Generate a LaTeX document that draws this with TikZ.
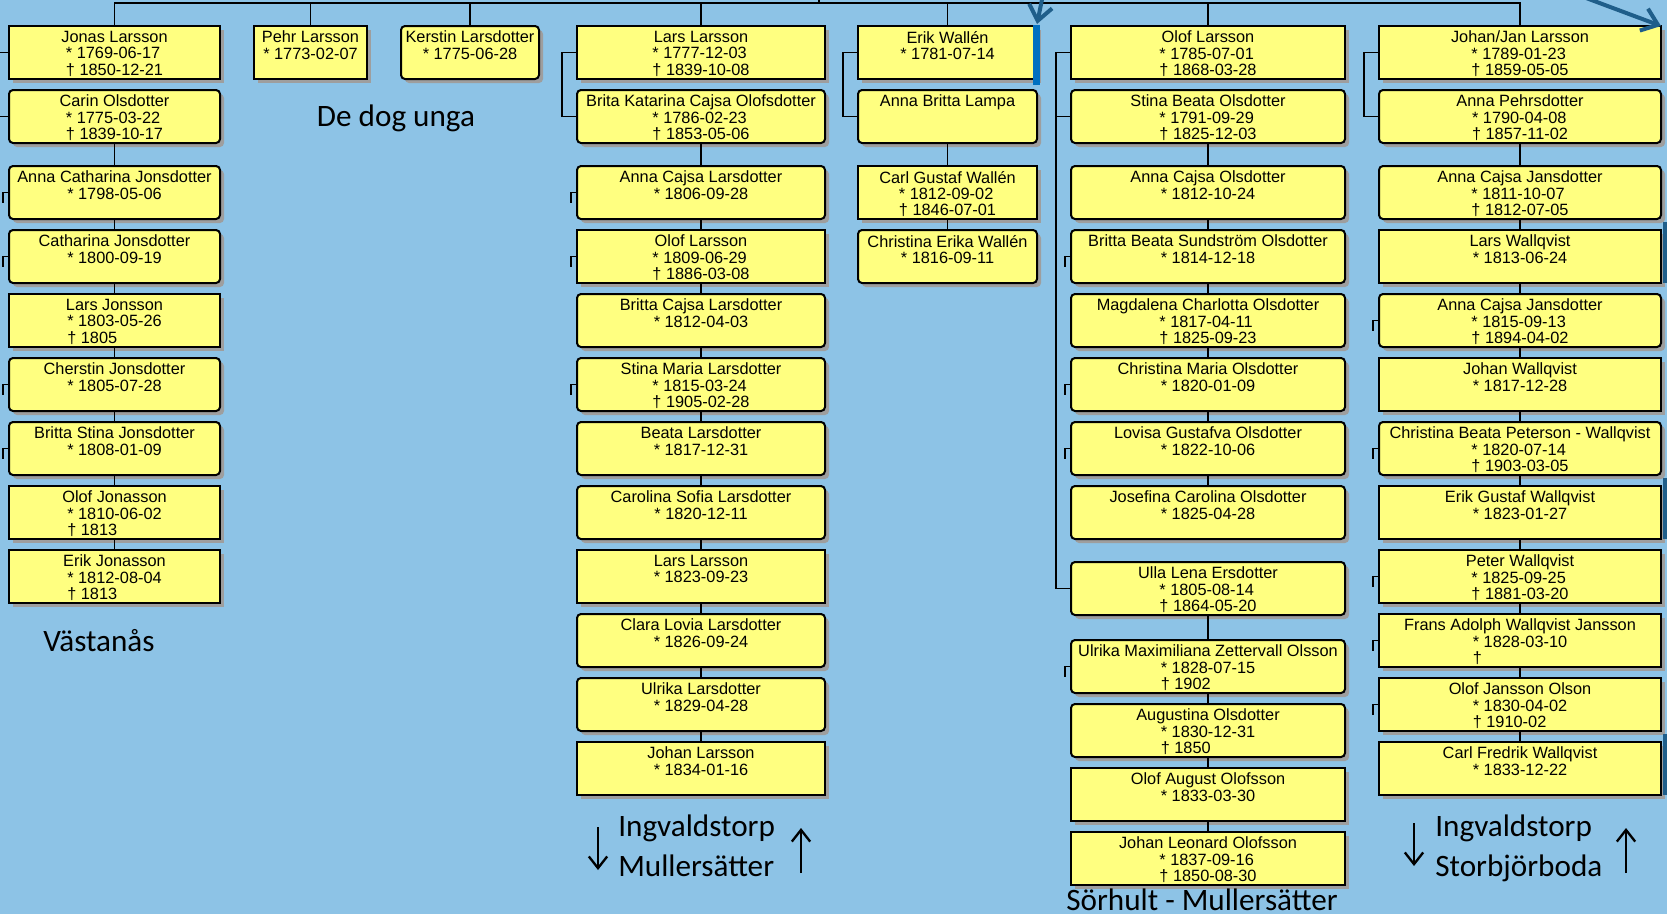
\documentclass[tikz,border=0pt]{standalone}
\usepackage{fontspec}
\setmainfont{Liberation Sans}
\newfontfamily\placefont{Carlito}
\usetikzlibrary{positioning,arrows.meta,shadows}
\definecolor{bgblue}{RGB}{141,195,230}
\definecolor{cardfill}{RGB}{255,255,128}
\definecolor{shadowgrey}{RGB}{158,158,158}
\definecolor{markblue}{RGB}{0,112,192}
\definecolor{arrowblue}{RGB}{31,94,138}
\newcommand{\cardfont}{\fontsize{9.8}{9.6}\selectfont}
\newcommand{\card}[2]{\vbox to 25.8pt{\hbox{\begin{tabular}[t]{@{}c@{}}#1\\\begin{tabular}[t]{@{}l@{}}#2\end{tabular}\end{tabular}}\vss}}

\begin{document}
\begin{tikzpicture}[
   x=0.6pt, y=-0.6pt,
   node distance = 6.6pt,
   person/.style = {draw, line width=1.2pt, fill=cardfill, inner xsep=0pt, inner ysep=3pt,
                    outer sep=0pt, minimum height=31.8pt, font=\cardfont,
                    drop shadow={shadow xshift=2.4pt, shadow yshift=-2.4pt, fill=shadowgrey, opacity=1}},
   man/.style = {person},
   woman/.style = {person, rounded corners=2.4pt},
   jcol/.style = {minimum width=126.6pt},
   pcol/.style = {minimum width=67.8pt},
   kcol/.style = {minimum width=82.8pt},
   lcol/.style = {minimum width=148.8pt},
   ecol/.style = {minimum width=107.4pt},
   ocol/.style = {minimum width=164.4pt},
   ncol/.style = {minimum width=169.2pt},
   link/.style = {line width=1.1pt},
   pointer/.style = {draw=arrowblue, line width=2.4pt, -{Straight Barb[length=9pt, width=14pt]}},
   glyph/.style = {line width=1.4pt, -{Straight Barb[length=7pt, width=11pt]}},
   place/.style = {font=\placefont\fontsize{18.7}{24}\selectfont, inner sep=0pt}
]
\useasboundingbox (0,0) rectangle (1667,914);
\clip (0,0) rectangle (1667,914);
\fill[bgblue] (0,0) rectangle (1667,914);

\node[man, jcol, anchor=north west] (jonas) at (9,26) {\card{Jonas Larsson}{* 1769-06-17\\† 1850-12-21}};
\node[woman, jcol, below=of jonas] (carin) {\card{Carin Olsdotter}{* 1775-03-22\\† 1839-10-17}};
\node[woman, jcol, below=13.8pt of carin] (jo1) {\card{Anna Catharina Jonsdotter}{* 1798-05-06}};
\node[woman, jcol, below=of jo1] (jo2) {\card{Catharina Jonsdotter}{* 1800-09-19}};
\node[man, jcol, below=of jo2] (jo3) {\card{Lars Jonsson}{* 1803-05-26\\† 1805}};
\node[woman, jcol, below=of jo3] (jo4) {\card{Cherstin Jonsdotter}{* 1805-07-28}};
\node[woman, jcol, below=of jo4] (jo5) {\card{Britta Stina Jonsdotter}{* 1808-01-09}};
\node[man, jcol, below=of jo5] (jo6) {\card{Olof Jonasson}{* 1810-06-02\\† 1813}};
\node[man, jcol, below=of jo6] (jo7) {\card{Erik Jonasson}{* 1812-08-04\\† 1813}};

\node[man, pcol, anchor=north west] (pehr) at (254,26) {\card{Pehr Larsson}{* 1773-02-07}};
\node[woman, kcol, anchor=north west] (kerstin) at (401,26) {\card{Kerstin Larsdotter}{* 1775-06-28}};

\node[man, lcol, anchor=north west] (lars) at (577,26) {\card{Lars Larsson}{* 1777-12-03\\† 1839-10-08}};
\node[woman, lcol, below=of lars] (brita) {\card{Brita Katarina Cajsa Olofsdotter}{* 1786-02-23\\† 1853-05-06}};
\node[woman, lcol, below=13.8pt of brita] (la1) {\card{Anna Cajsa Larsdotter}{* 1806-09-28}};
\node[man, lcol, below=of la1] (la2) {\card{Olof Larsson}{* 1809-06-29\\† 1886-03-08}};
\node[woman, lcol, below=of la2] (la3) {\card{Britta Cajsa Larsdotter}{* 1812-04-03}};
\node[woman, lcol, below=of la3] (la4) {\card{Stina Maria Larsdotter}{* 1815-03-24\\† 1905-02-28}};
\node[woman, lcol, below=of la4] (la5) {\card{Beata Larsdotter}{* 1817-12-31}};
\node[woman, lcol, below=of la5] (la6) {\card{Carolina Sofia Larsdotter}{* 1820-12-11}};
\node[man, lcol, below=of la6] (la7) {\card{Lars Larsson}{* 1823-09-23}};
\node[woman, lcol, below=of la7] (la8) {\card{Clara Lovia Larsdotter}{* 1826-09-24}};
\node[woman, lcol, below=of la8] (la9) {\card{Ulrika Larsdotter}{* 1829-04-28}};
\node[man, lcol, below=of la9] (la10) {\card{Johan Larsson}{* 1834-01-16}};

\node[man, ecol, anchor=north west] (erik) at (858,26) {\card{Erik Wallén}{* 1781-07-14}};
\node[woman, ecol, below=of erik] (lampa) {\card{Anna Britta Lampa}{}};
\node[man, ecol, below=13.8pt of lampa] (er1) {\card{Carl Gustaf Wallén}{* 1812-09-02\\† 1846-07-01}};
\node[woman, ecol, below=of er1] (er2) {\card{Christina Erika Wallén}{* 1816-09-11}};

\node[man, ocol, anchor=north west] (olof) at (1071,26) {\card{Olof Larsson}{* 1785-07-01\\† 1868-03-28}};
\node[woman, ocol, below=of olof] (stina) {\card{Stina Beata Olsdotter}{* 1791-09-29\\† 1825-12-03}};
\node[woman, ocol, below=13.8pt of stina] (ol1) {\card{Anna Cajsa Olsdotter}{* 1812-10-24}};
\node[woman, ocol, below=of ol1] (ol2) {\card{Britta Beata Sundström Olsdotter}{* 1814-12-18}};
\node[woman, ocol, below=of ol2] (ol3) {\card{Magdalena Charlotta Olsdotter}{* 1817-04-11\\† 1825-09-23}};
\node[woman, ocol, below=of ol3] (ol4) {\card{Christina Maria Olsdotter}{* 1820-01-09}};
\node[woman, ocol, below=of ol4] (ol5) {\card{Lovisa Gustafva Olsdotter}{* 1822-10-06}};
\node[woman, ocol, below=of ol5] (ol6) {\card{Josefina Carolina Olsdotter}{* 1825-04-28}};
\node[woman, ocol, below=13.8pt of ol6] (ulla) {\card{Ulla Lena Ersdotter}{* 1805-08-14\\† 1864-05-20}};
\node[woman, ocol, below=15pt of ulla] (ul1) {\card{Ulrika Maximiliana Zettervall Olsson}{* 1828-07-15\\† 1902}};
\node[woman, ocol, below=of ul1] (ul2) {\card{Augustina Olsdotter}{* 1830-12-31\\† 1850}};
\node[man, ocol, below=of ul2] (ul3) {\card{Olof August Olofsson}{* 1833-03-30}};
\node[man, ocol, below=of ul3] (ul4) {\card{Johan Leonard Olofsson}{* 1837-09-16\\† 1850-08-30}};

\node[man, ncol, anchor=north west] (johan) at (1379,26) {\card{Johan/Jan Larsson}{* 1789-01-23\\† 1859-05-05}};
\node[woman, ncol, below=of johan] (annap) {\card{Anna Pehrsdotter}{* 1790-04-08\\† 1857-11-02}};
\node[woman, ncol, below=13.8pt of annap] (jn1) {\card{Anna Cajsa Jansdotter}{* 1811-10-07\\† 1812-07-05}};
\node[man, ncol, below=of jn1] (jn2) {\card{Lars Wallqvist}{* 1813-06-24}};
\node[woman, ncol, below=of jn2] (jn3) {\card{Anna Cajsa Jansdotter}{* 1815-09-13\\† 1894-04-02}};
\node[man, ncol, below=of jn3] (jn4) {\card{Johan Wallqvist}{* 1817-12-28}};
\node[woman, ncol, below=of jn4] (jn5) {\card{Christina Beata Peterson - Wallqvist}{* 1820-07-14\\† 1903-03-05}};
\node[man, ncol, below=of jn5] (jn6) {\card{Erik Gustaf Wallqvist}{* 1823-01-27}};
\node[man, ncol, below=of jn6] (jn7) {\card{Peter Wallqvist}{* 1825-09-25\\† 1881-03-20}};
\node[man, ncol, below=of jn7] (jn8) {\card{Frans Adolph Wallqvist Jansson}{* 1828-03-10\\†}};
\node[man, ncol, below=of jn8] (jn9) {\card{Olof Jansson Olson}{* 1830-04-02\\† 1910-02}};
\node[man, ncol, below=of jn9] (jn10) {\card{Carl Fredrik Wallqvist}{* 1833-12-22}};

\node[place, anchor=base] (dog) at (396,126) {De dog unga};
\node[place, anchor=base] (vast) at (99,651) {Västanås};
\node[place, anchor=base west] (ingmul) at (618,836) {\begin{tabular}[t]{@{}l@{}}Ingvaldstorp\\Mullersätter\end{tabular}};
\node[place, anchor=base west] (ingsto) at (1435,836) {\begin{tabular}[t]{@{}l@{}}Ingvaldstorp\\Storbjörboda\end{tabular}};
\node[place, anchor=base] (sorh) at (1202,910) {Sörhult - Mullersätter};

\coordinate (bus) at (0,3);
\coordinate (up) at (819,-6);
\draw[link] (jonas.north) -- (jonas.north |- bus) -- (johan.north |- bus) -- (johan.north);
\draw[link] (pehr.north) -- (pehr.north |- bus);
\draw[link] (kerstin.north) -- (kerstin.north |- bus);
\draw[link] (lars.north) -- (lars.north |- bus);
\draw[link] (erik.north) -- (erik.north |- bus);
\draw[link] (olof.north) -- (olof.north |- bus);
\draw[link] (up) -- (up |- bus);

\draw[link] (jonas.west) -- ++(-15,0) |- (carin.west);
\draw[link] (lars.west) -- ++(-15,0) |- (brita.west);
\draw[link] (erik.west) -- ++(-15,0) |- (lampa.west);
\draw[link] (olof.west) -- ++(-15,0) |- (stina.west);
\draw[link] (olof.west) ++(-15,0) |- (ulla.west);
\draw[link] (johan.west) -- ++(-15,0) |- (annap.west);

\draw[link] (carin) -- (jo1) -- (jo2) -- (jo3) -- (jo4) -- (jo5) -- (jo6) -- (jo7);
\draw[link] (brita) -- (la1) -- (la2) -- (la3) -- (la4) -- (la5) -- (la6) -- (la7) -- (la8) -- (la9) -- (la10);
\draw[link] (lampa) -- (er1) -- (er2);
\draw[link] (stina) -- (ol1) -- (ol2) -- (ol3) -- (ol4) -- (ol5) -- (ol6);
\draw[link] (ulla) -- (ul1) -- (ul2) -- (ul3) -- (ul4);
\draw[link] (annap) -- (jn1) -- (jn2) -- (jn3) -- (jn4) -- (jn5) -- (jn6) -- (jn7) -- (jn8) -- (jn9) -- (jn10);

\foreach \k in {jo1,jo2,jo4,jo5,la1,la2,la4,ol2,ol4,ol5,ul1,jn3,jn5,jn7,jn8,jn9}
   \draw[link] (\k.west) -- ++(-6,0) -- ++(0,10);

\fill[markblue] ([xshift=-2.4pt, yshift=0.6pt]erik.north east) rectangle ([xshift=1.8pt, yshift=-3.6pt]erik.south east);
\foreach \k in {jn2,jn6,jn10}
   \fill[arrowblue] ([xshift=1.2pt, yshift=4.8pt]\k.north east) rectangle ([xshift=6pt]\k.south east);

\coordinate (cue1) at (1047,-25);
\coordinate (cue2) at (1546,-17);
\draw[pointer] (cue1) -- ([yshift=1.2pt]erik.north east);
\draw[pointer] (cue2) -- (johan.north east);

\draw[glyph] (598,827) -- (598,870);
\draw[glyph] (801,873) -- (801,828);
\draw[glyph] (1414,823) -- (1414,866);
\draw[glyph] (1626,873) -- (1626,828);
\end{tikzpicture}
\end{document}
